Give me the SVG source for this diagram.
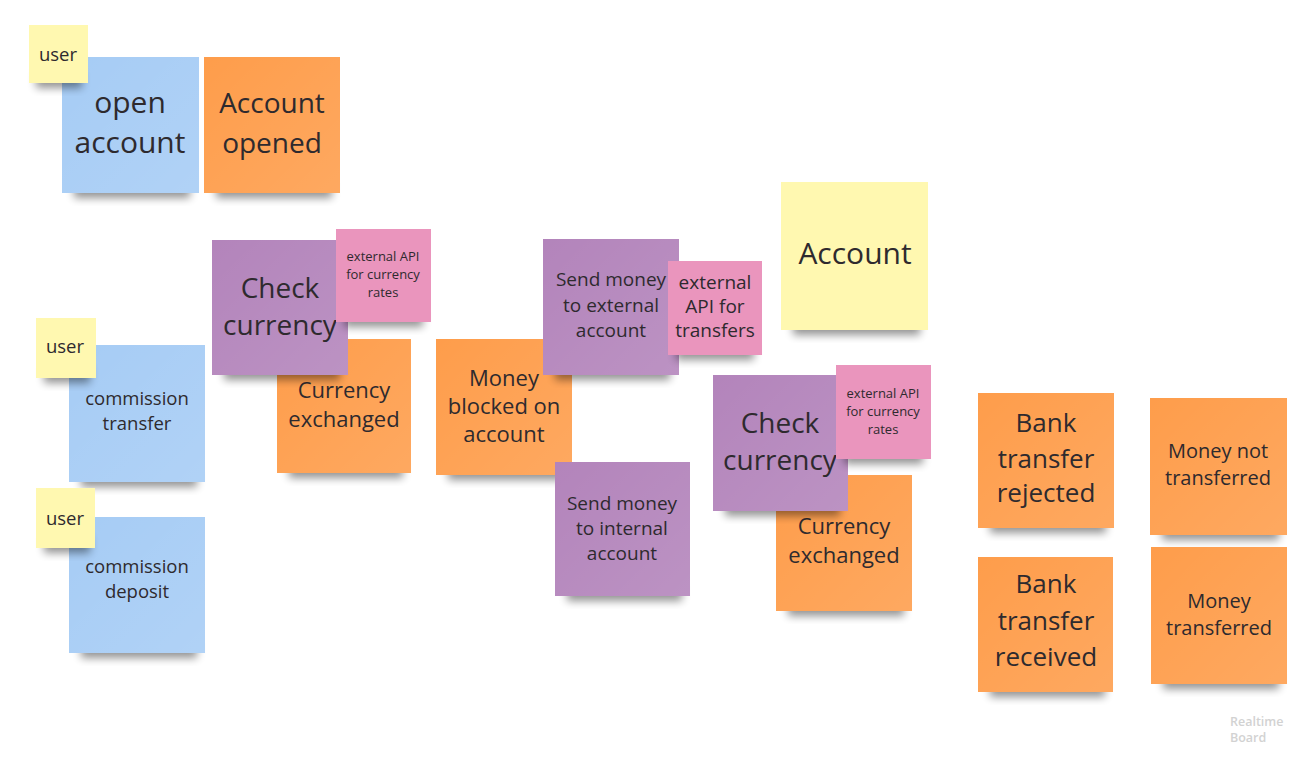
<svg xmlns="http://www.w3.org/2000/svg" width="1312" height="762" viewBox="0 0 1312 762">
<defs>
<filter id="sh" x="-20%" y="-50%" width="140%" height="200%"><feGaussianBlur stdDeviation="4"/></filter>
<linearGradient id="gl" x1="0" y1="0" x2="1" y2="1"><stop offset="0" stop-color="#fff" stop-opacity="0"/><stop offset="1" stop-color="#fff" stop-opacity="0.12"/></linearGradient>
</defs>
<style>
text{font-family:"Open Sans","DejaVu Sans",sans-serif;fill:#2e2a2e;text-anchor:middle}
.s{fill:#000;opacity:.42;filter:url(#sh)}
.blue{fill:#a6ccf5}.orange{fill:#fe9d4b}.purple{fill:#b384bb}.pink{fill:#ea95bd}.yellow{fill:#fff8b0}
.g{fill:url(#gl)}
.f30{font-size:30px}.f28{font-size:28px}.f26{font-size:26px}.f22{font-size:22px}.f20{font-size:20px}.f19{font-size:19px}.f18{font-size:18.5px}.f13{font-size:13px}
.wm{font-size:12.5px;font-weight:600;fill:#d2d2d2;text-anchor:start}
</style>
<rect width="1312" height="762" fill="#ffffff"/>
<g id="connectors"/>

<g id="open-account">
<rect class="s" x="74" y="182" width="116" height="16"/>
<rect class="blue" x="62" y="57" width="137" height="136"/><rect class="g" x="62" y="57" width="137" height="136"/>
<text class="f30"><tspan x="130" y="113">open</tspan><tspan x="130" y="153">account</tspan></text>
</g>
<g id="user-1">
<rect class="s" x="36" y="72" width="46" height="16"/>
<rect class="yellow" x="29" y="25" width="59" height="58"/>
<text class="f18" x="58" y="61">user</text>
</g>
<g id="account-opened">
<rect class="s" x="216" y="182" width="116" height="16"/>
<rect class="orange" x="204" y="57" width="136" height="136"/><rect class="g" x="204" y="57" width="136" height="136"/>
<text class="f28"><tspan x="272" y="113">Account</tspan><tspan x="272" y="153">opened</tspan></text>
</g>

<g id="commission-transfer">
<rect class="s" x="81" y="471" width="116" height="16"/>
<rect class="blue" x="69" y="345" width="136" height="137"/><rect class="g" x="69" y="345" width="136" height="137"/>
<text class="f18"><tspan x="137" y="405">commission</tspan><tspan x="137" y="430">transfer</tspan></text>
</g>
<g id="user-2">
<rect class="s" x="44" y="367" width="46" height="16"/>
<rect class="yellow" x="36" y="318" width="60" height="60"/>
<text class="f18" x="65" y="353">user</text>
</g>
<g id="commission-deposit">
<rect class="s" x="81" y="642" width="116" height="16"/>
<rect class="blue" x="69" y="517" width="136" height="136"/><rect class="g" x="69" y="517" width="136" height="136"/>
<text class="f18"><tspan x="137" y="573">commission</tspan><tspan x="137" y="598">deposit</tspan></text>
</g>
<g id="user-3">
<rect class="s" x="44" y="537" width="46" height="16"/>
<rect class="yellow" x="36" y="488" width="59" height="60"/>
<text class="f18" x="65" y="525">user</text>
</g>

<g id="currency-exchanged-1">
<rect class="s" x="289" y="462" width="114" height="16"/>
<rect class="orange" x="277" y="339" width="134" height="134"/><rect class="g" x="277" y="339" width="134" height="134"/>
<text class="f22"><tspan x="344" y="398">Currency</tspan><tspan x="344" y="427">exchanged</tspan></text>
</g>
<g id="check-currency-1">
<rect class="s" x="224" y="364" width="116" height="16"/>
<rect class="purple" x="212" y="240" width="136" height="135"/><rect class="g" x="212" y="240" width="136" height="135"/>
<text class="f28"><tspan x="280" y="298">Check</tspan><tspan x="280" y="335">currency</tspan></text>
</g>
<g id="api-currency-1">
<rect class="s" x="344" y="311" width="79" height="16"/>
<rect class="pink" x="336" y="229" width="95" height="93"/>
<text class="f13"><tspan x="383" y="261">external API</tspan><tspan x="383" y="279">for currency</tspan><tspan x="383" y="297">rates</tspan></text>
</g>

<g id="money-blocked">
<rect class="s" x="448" y="464" width="116" height="16"/>
<rect class="orange" x="436" y="339" width="136" height="136"/><rect class="g" x="436" y="339" width="136" height="136"/>
<text class="f22"><tspan x="504" y="386">Money</tspan><tspan x="504" y="414">blocked on</tspan><tspan x="504" y="442">account</tspan></text>
</g>
<g id="send-external">
<rect class="s" x="555" y="364" width="115" height="16"/>
<rect class="purple" x="543" y="239" width="136" height="136"/><rect class="g" x="543" y="239" width="136" height="136"/>
<text class="f19"><tspan x="611" y="286">Send money</tspan><tspan x="611" y="312">to external</tspan><tspan x="611" y="337">account</tspan></text>
</g>
<g id="api-transfers">
<rect class="s" x="676" y="344" width="78" height="16"/>
<rect class="pink" x="668" y="261" width="94" height="94"/>
<text class="f19"><tspan x="715" y="289">external</tspan><tspan x="715" y="313">API for</tspan><tspan x="715" y="337">transfers</tspan></text>
</g>
<g id="send-internal">
<rect class="s" x="567" y="585" width="115" height="16"/>
<rect class="purple" x="555" y="462" width="135" height="134"/><rect class="g" x="555" y="462" width="135" height="134"/>
<text class="f19"><tspan x="622" y="510">Send money</tspan><tspan x="622" y="535">to internal</tspan><tspan x="622" y="560">account</tspan></text>
</g>

<g id="account">
<rect class="s" x="793" y="319" width="127" height="16"/>
<rect class="yellow" x="781" y="182" width="147" height="148"/>
<text class="f30" x="855" y="264">Account</text>
</g>

<g id="currency-exchanged-2">
<rect class="s" x="788" y="600" width="116" height="16"/>
<rect class="orange" x="776" y="475" width="136" height="136"/><rect class="g" x="776" y="475" width="136" height="136"/>
<text class="f22"><tspan x="844" y="534">Currency</tspan><tspan x="844" y="563">exchanged</tspan></text>
</g>
<g id="check-currency-2">
<rect class="s" x="725" y="500" width="115" height="16"/>
<rect class="purple" x="713" y="375" width="135" height="136"/><rect class="g" x="713" y="375" width="135" height="136"/>
<text class="f28"><tspan x="780" y="433">Check</tspan><tspan x="780" y="470">currency</tspan></text>
</g>
<g id="api-currency-2">
<rect class="s" x="844" y="448" width="79" height="16"/>
<rect class="pink" x="836" y="365" width="95" height="94"/>
<text class="f13"><tspan x="883" y="398">external API</tspan><tspan x="883" y="416">for currency</tspan><tspan x="883" y="434">rates</tspan></text>
</g>

<g id="bank-transfer-rejected">
<rect class="s" x="990" y="517" width="116" height="16"/>
<rect class="orange" x="978" y="393" width="136" height="135"/><rect class="g" x="978" y="393" width="136" height="135"/>
<text class="f26"><tspan x="1046" y="432">Bank</tspan><tspan x="1046" y="468">transfer</tspan><tspan x="1046" y="502">rejected</tspan></text>
</g>
<g id="money-not-transferred">
<rect class="s" x="1162" y="524" width="117" height="16"/>
<rect class="orange" x="1150" y="398" width="137" height="137"/><rect class="g" x="1150" y="398" width="137" height="137"/>
<text class="f20"><tspan x="1218" y="458">Money not</tspan><tspan x="1218" y="485">transferred</tspan></text>
</g>
<g id="bank-transfer-received">
<rect class="s" x="990" y="681" width="115" height="16"/>
<rect class="orange" x="978" y="557" width="135" height="135"/><rect class="g" x="978" y="557" width="135" height="135"/>
<text class="f26"><tspan x="1046" y="593">Bank</tspan><tspan x="1046" y="630">transfer</tspan><tspan x="1046" y="666">received</tspan></text>
</g>
<g id="money-transferred">
<rect class="s" x="1163" y="673" width="116" height="16"/>
<rect class="orange" x="1151" y="547" width="136" height="137"/><rect class="g" x="1151" y="547" width="136" height="137"/>
<text class="f20"><tspan x="1219" y="608">Money</tspan><tspan x="1219" y="635">transferred</tspan></text>
</g>

<text class="wm"><tspan x="1230" y="726">Realtime</tspan><tspan x="1230" y="742">Board</tspan></text>
</svg>
